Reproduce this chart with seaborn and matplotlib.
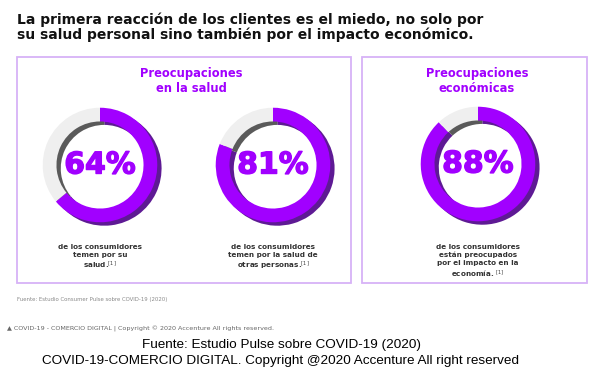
import matplotlib
matplotlib.use("Agg")
import matplotlib.pyplot as plt
import matplotlib.patheffects as pe
import seaborn as sns
from matplotlib.patches import Rectangle

sns.set_theme(style="white")
plt.rcParams['font.family'] = ['DejaVu Sans']

# data
pct_values = [64, 81, 88]
pct_labels = ['64%', '81%', '88%']
captions = [
    'de los consumidores\ntemen por su\nsalud.$^{[1]}$',
    'de los consumidores\ntemen por la salud de\notras personas.$^{[1]}$',
    'de los consumidores\nestán preocupados\npor el impacto en la\neconomía. $^{[1]}$',
]
panel_titles = ['Preocupaciones\nen la salud', 'Preocupaciones\neconómicas']
title = ('La primera reacción de los clientes es el miedo, no solo por\n'
         'su salud personal sino también por el impacto económico.')

PURPLE = '#a100ff'
DARK_PURPLE = '#5e1a94'
LIGHT = '#efefef'
DARK_GRAY = '#5a5a5a'
BORDER = '#d7b2f7'

W, H = 599, 375
fig = plt.figure(figsize=(W / 100, H / 100), dpi=100)
bg = fig.add_axes([0, 0, 1, 1])
bg.set_xlim(0, W)
bg.set_ylim(H, 0)
bg.axis('off')

# panel boxes
bg.add_patch(Rectangle((17, 57), 334, 226, fill=False, ec=BORDER, lw=1.3))
bg.add_patch(Rectangle((362, 57), 225, 226, fill=False, ec=BORDER, lw=1.3))

bg.text(17, 27, title, fontsize=10, fontweight='bold', color='#111111',
        va='center', ha='left', linespacing=1.05)

for x, t in zip([191, 477], panel_titles):
    bg.text(x, 81.5, t, fontsize=8.3, fontweight='bold', color=PURPLE,
            ha='center', va='center', linespacing=1.2)

# donuts
centers = [(100, 165), (273, 165), (478, 164)]
R = 57
for (cx, cy), v, lab, cap in zip(centers, pct_values, pct_labels, captions):
    ax = fig.add_axes([(cx - R - 6) / W, 1 - (cy + R + 6) / H,
                       2 * (R + 6) / W, 2 * (R + 6) / H])
    ax.pie([v, 100 - v], colors=[DARK_PURPLE, DARK_GRAY], startangle=90,
           counterclock=False, radius=1.0, center=(0.075, -0.06),
           wedgeprops=dict(width=0.24, linewidth=0))
    ax.pie([v, 100 - v], colors=[PURPLE, LIGHT], startangle=90,
           counterclock=False, radius=1.0,
           wedgeprops=dict(width=0.24, linewidth=0))
    ax.set_xlim(-1.1, 1.1)
    ax.set_ylim(-1.1, 1.1)
    ax.set_aspect('equal')
    ax.axis('off')
    ax.text(0, 0, lab, fontsize=21.5, fontweight='bold', color=PURPLE,
            ha='center', va='center',
            path_effects=[pe.withStroke(linewidth=1.0, foreground=PURPLE)])
    bg.text(cx, 244, cap, fontsize=5.2, fontweight='bold', color='#333333',
            ha='center', va='top', linespacing=1.3)

bg.text(17, 300, 'Fuente: Estudio Consumer Pulse sobre COVID-19 (2020)',
        fontsize=3.9, color='#8a8a8a', ha='left', va='center')
bg.text(7, 329, '▲ COVID-19 - COMERCIO DIGITAL | Copyright © 2020 Accenture All rights reserved.',
        fontsize=4.6, color='#666666', ha='left', va='center')

bg.text(281, 345, 'Fuente: Estudio Pulse sobre COVID-19 (2020)',
        fontsize=9.7, color='black', ha='center', va='center', family='Liberation Sans')
bg.text(281, 361, 'COVID-19-COMERCIO DIGITAL. Copyright @2020 Accenture All right reserved',
        fontsize=9.7, color='black', ha='center', va='center', family='Liberation Sans')

fig.savefig('out.png', dpi=100)
